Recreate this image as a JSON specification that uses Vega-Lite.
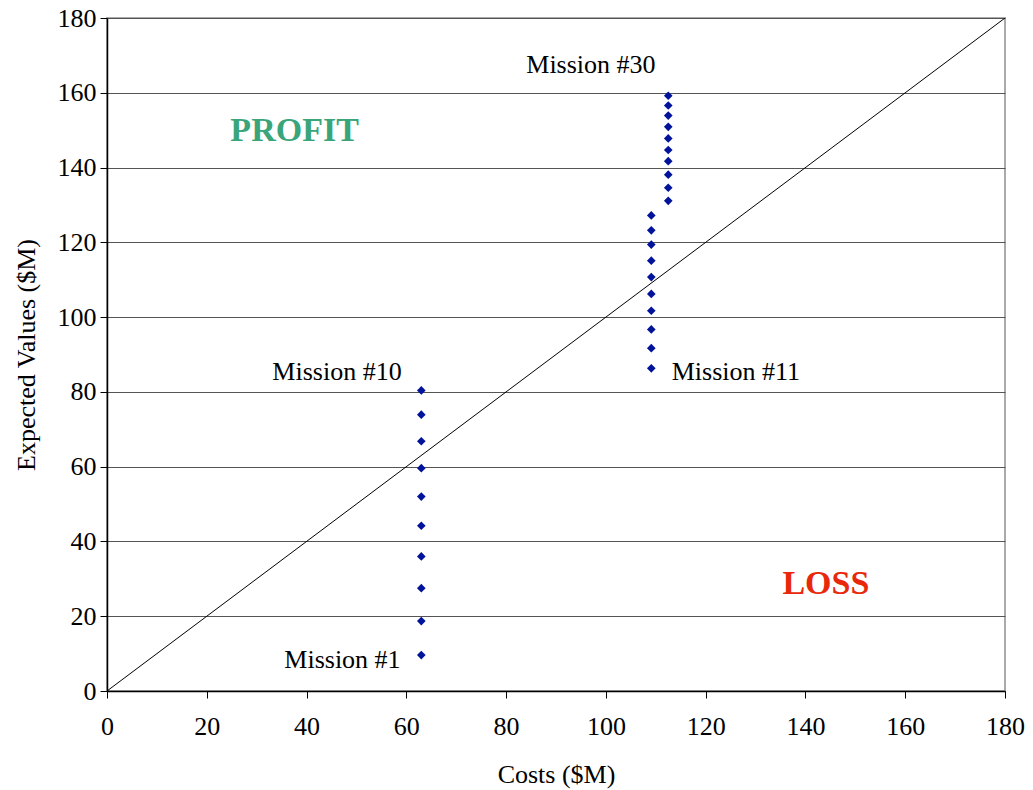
{
  "$schema": "https://vega.github.io/schema/vega-lite/v6.json",
  "width": 898,
  "height": 673,
  "autosize": "none",
  "padding": {"left": 107, "top": 18, "right": 28, "bottom": 99},
  "background": "white",
  "config": {
    "view": {"stroke": "#aaaaaa", "strokeWidth": 2},
    "font": "Liberation Serif"
  },
  "datasets": {
    "missions": [
      {"cost": 63.0, "value": 9.6},
      {"cost": 63.0, "value": 18.7},
      {"cost": 63.0, "value": 27.5},
      {"cost": 63.0, "value": 36.0},
      {"cost": 63.0, "value": 44.2},
      {"cost": 63.0, "value": 52.0},
      {"cost": 63.0, "value": 59.6},
      {"cost": 63.0, "value": 66.8},
      {"cost": 63.0, "value": 73.9},
      {"cost": 63.0, "value": 80.4},
      {"cost": 109.1, "value": 86.3},
      {"cost": 109.1, "value": 91.7},
      {"cost": 109.1, "value": 96.7},
      {"cost": 109.1, "value": 101.7},
      {"cost": 109.1, "value": 106.2},
      {"cost": 109.1, "value": 110.7},
      {"cost": 109.1, "value": 115.1},
      {"cost": 109.1, "value": 119.4},
      {"cost": 109.1, "value": 123.2},
      {"cost": 109.1, "value": 127.2},
      {"cost": 112.5, "value": 131.1},
      {"cost": 112.5, "value": 134.6},
      {"cost": 112.5, "value": 138.1},
      {"cost": 112.5, "value": 141.7},
      {"cost": 112.5, "value": 144.7},
      {"cost": 112.5, "value": 147.8},
      {"cost": 112.5, "value": 150.9},
      {"cost": 112.5, "value": 153.9},
      {"cost": 112.5, "value": 156.6},
      {"cost": 112.5, "value": 159.2}
    ],
    "diag": [
      {"cost": 0, "value": 0},
      {"cost": 180, "value": 180}
    ],
    "labelsCenter": [
      {"cost": 97, "value": 167.5, "text": "Mission #30"},
      {"cost": 46.1, "value": 85.4, "text": "Mission #10"},
      {"cost": 47.2, "value": 8.4, "text": "Mission #1"}
    ],
    "labelsLeft": [
      {"cost": 113.2, "value": 85.4, "text": "Mission #11"}
    ],
    "regions": [
      {"cost": 37.6, "value": 149.9, "text": "PROFIT", "kind": "PROFIT"},
      {"cost": 144.1, "value": 28.5, "text": "LOSS", "kind": "LOSS"}
    ]
  },
  "layer": [
    {
      "data": {"name": "diag"},
      "mark": {"type": "line", "color": "black", "strokeWidth": 1, "clip": true},
      "encoding": {
        "x": {
          "field": "cost", "type": "quantitative",
          "scale": {"domain": [0, 180], "nice": false},
          "axis": {
            "title": "Costs ($M)",
            "values": [0, 20, 40, 60, 80, 100, 120, 140, 160, 180],
            "grid": false,
            "domainColor": "black", "domainWidth": 1.5,
            "tickColor": "black", "tickSize": 7,
            "labelFont": "Liberation Serif", "labelFontSize": 26, "labelColor": "black",
            "labelPadding": 15, "labelFlush": false,
            "titleFont": "Liberation Serif", "titleFontSize": 26, "titleFontWeight": "normal",
            "titleColor": "black", "titlePadding": 22
          }
        },
        "y": {
          "field": "value", "type": "quantitative",
          "scale": {"domain": [0, 180], "nice": false},
          "axis": {
            "title": "Expected Values ($M)",
            "values": [0, 20, 40, 60, 80, 100, 120, 140, 160, 180],
            "grid": true, "gridColor": "#555555", "gridWidth": 1.2, "gridOpacity": 1,
            "domainColor": "black", "domainWidth": 1.5,
            "tickColor": "black", "tickSize": 7,
            "labelFont": "Liberation Serif", "labelFontSize": 26, "labelColor": "black",
            "labelPadding": 4, "labelFlush": false,
            "titleFont": "Liberation Serif", "titleFontSize": 26, "titleFontWeight": "normal",
            "titleColor": "black", "titlePadding": 18
          }
        }
      }
    },
    {
      "data": {"name": "missions"},
      "mark": {"type": "point", "shape": "diamond", "filled": true, "color": "#00139a", "size": 75, "opacity": 1},
      "encoding": {
        "x": {"field": "cost", "type": "quantitative"},
        "y": {"field": "value", "type": "quantitative"}
      }
    },
    {
      "data": {"name": "labelsCenter"},
      "mark": {"type": "text", "font": "Liberation Serif", "fontSize": 26, "color": "black", "baseline": "middle", "align": "center"},
      "encoding": {
        "x": {"field": "cost", "type": "quantitative"},
        "y": {"field": "value", "type": "quantitative"},
        "text": {"field": "text"}
      }
    },
    {
      "data": {"name": "labelsLeft"},
      "mark": {"type": "text", "font": "Liberation Serif", "fontSize": 26, "color": "black", "baseline": "middle", "align": "left"},
      "encoding": {
        "x": {"field": "cost", "type": "quantitative"},
        "y": {"field": "value", "type": "quantitative"},
        "text": {"field": "text"}
      }
    },
    {
      "data": {"name": "regions"},
      "mark": {"type": "text", "font": "Liberation Serif", "fontSize": 34, "fontWeight": "bold", "baseline": "middle", "align": "center"},
      "encoding": {
        "x": {"field": "cost", "type": "quantitative"},
        "y": {"field": "value", "type": "quantitative"},
        "text": {"field": "text"},
        "color": {
          "field": "kind", "type": "nominal",
          "scale": {"domain": ["PROFIT", "LOSS"], "range": ["#3aa57a", "#e8280a"]},
          "legend": null
        }
      }
    }
  ]
}
